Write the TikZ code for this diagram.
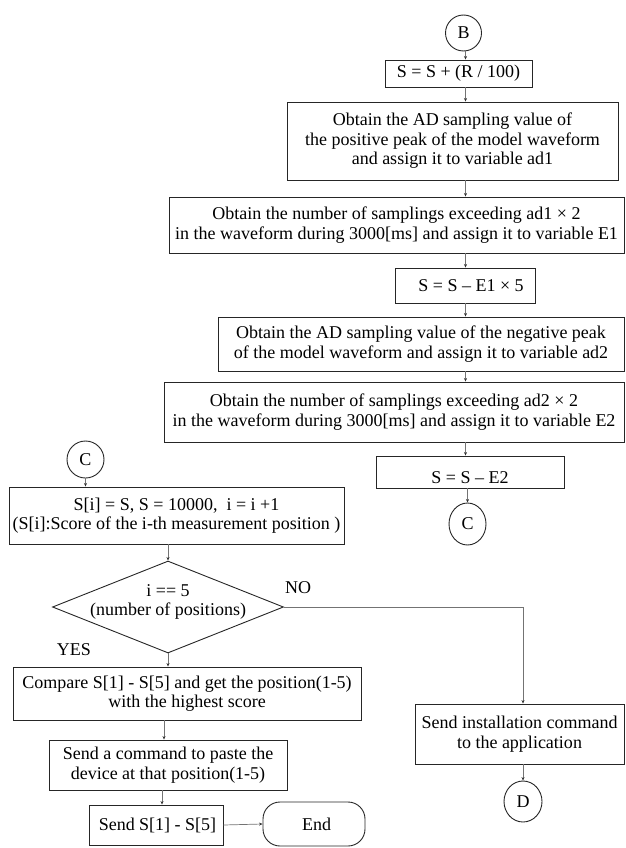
\documentclass[tikz,border=0pt]{standalone}
\usepackage{fontspec}
\setmainfont{Liberation Serif}
\usetikzlibrary{arrows.meta,shapes.geometric}
\begin{document}
\begin{tikzpicture}[x=1pt,y=-1pt,
  every node/.style={font=\fontsize{18}{19.5}\selectfont, text=black},
  box/.style={draw=black!85, line width=0.9pt, rectangle, inner sep=0pt, align=center},
  conn/.style={draw=black!85, circle, line width=0.9pt, inner sep=0pt},
  decide/.style={draw=black!85, diamond, line width=0.9pt, inner sep=0pt, align=center},
  term/.style={draw=black!85, rectangle, rounded corners=17pt, line width=0.9pt, inner sep=0pt},
  arr/.style={draw=black!55, line width=0.7pt, -{Stealth[length=3.5pt,width=3pt,black!80]}},
  lbl/.style={inner sep=0pt, align=center}]
\useasboundingbox (0,0) rectangle (625,848);
% right column
\node[conn, minimum size=36pt] (B) at (463.5,33) {B};
\node[box, minimum width=147pt, minimum height=27pt] (s1) at (458.5,73.5) {S = S + (R / 100)};
\node[box, minimum width=331pt, minimum height=78pt] (ad1) at (452.5,141) {Obtain the AD sampling value of\\ the positive peak of the model waveform\\and assign it to variable ad1};
\node[box, minimum width=455pt, minimum height=56pt] (e1) at (396.5,225) {Obtain the number of samplings exceeding ad1 × 2\\in the waveform during 3000[ms] and assign it to variable E1};
\node[box, minimum width=140pt, minimum height=35pt] (s2) at (465,285.5) {\hspace*{12pt}S = S – E1 × 5};
\node[box, minimum width=406pt, minimum height=54pt] (ad2) at (421,344) {Obtain the AD sampling value of the negative peak\\of the model waveform and assign it to variable ad2};
\node[box, minimum width=460pt, minimum height=60pt] (e2) at (394,412) {Obtain the number of samplings exceeding ad2 × 2\\in the waveform during 3000[ms] and assign it to variable E2};
\node[box, minimum width=188pt, minimum height=32pt] (s3) at (470,472) {};
\node[lbl] (s3text) at (470,478) {S = S – E2};
\node[conn, ellipse, minimum width=37pt, minimum height=42pt] (C2) at (467.5,524) {C};
% left column
\node[conn, minimum size=37pt] (C1) at (85.5,459.5) {C};
\node[box, minimum width=335pt, minimum height=57pt] (si) at (176.5,515.5) {S[i] = S, S = 10000,\ \ i = i +1\\(S[i]:Score of the i-th measurement position )};
\node[decide, minimum width=231pt, minimum height=92pt] (dia) at (168,607) {};
\node[lbl] (dtext) at (168,602) {i == 5\\(number of positions)};
\node[box, minimum width=348pt, minimum height=53pt] (cmp) at (187,693.5) {Compare S[1] - S[5] and get the position(1-5)\\with the highest score};
\node[box, minimum width=238pt, minimum height=50pt] (paste) at (168,765) {Send a command to paste the\\ device at that position(1-5)};
\node[box, minimum width=134pt, minimum height=40pt] (sends) at (156,825) {\hspace*{3pt}Send S[1] - S[5]};
\node[term, minimum width=102pt, minimum height=44pt] (end) at (314,824) {\hspace*{5pt}End};
\node[box, minimum width=209pt, minimum height=60pt] (inst) at (519.5,734) {Send installation command\\to the application};
\node[conn, ellipse, minimum width=38pt, minimum height=41pt] (D) at (523,801.5) {D};
\node[lbl] (no) at (298,588) {NO};
\node[lbl] (yes) at (74,650) {YES};
% connectors
\coordinate (col) at (465.5,0);
\draw[arr] (col |- B.south) -- (col |- s1.north);
\draw[arr] (col |- s1.south) -- (col |- ad1.north);
\draw[arr] (col |- ad1.south) -- (col |- e1.north);
\draw[arr] (col |- e1.south) -- (col |- s2.north);
\draw[arr] (col |- s2.south) -- (col |- ad2.north);
\draw[arr] (col |- ad2.south) -- (col |- e2.north);
\draw[arr] (col |- e2.south) -- (col |- s3.north);
\draw[arr] (C2.north |- s3.south) -- (C2.north);
\draw[arr] (C1.south) -- (C1.south |- si.north);
\draw[arr] (dia.north |- si.south) -- (dia.north);
\draw[arr] (dia.south) -- (dia.south |- cmp.north);
\coordinate (c2x) at (164,0);
\draw[arr] (c2x |- cmp.south) -- (c2x |- paste.north);
\coordinate (c3x) at (162,0);
\draw[arr] (c3x |- paste.south) -- (c3x |- sends.north);
\draw[arr] (sends.east) -- (end.west);
\draw[arr] (dia.east) -- (dia.east -| D.north) -- (D.north |- inst.north);
\draw[arr] (D.north |- inst.south) -- (D.north);
\end{tikzpicture}
\end{document}
